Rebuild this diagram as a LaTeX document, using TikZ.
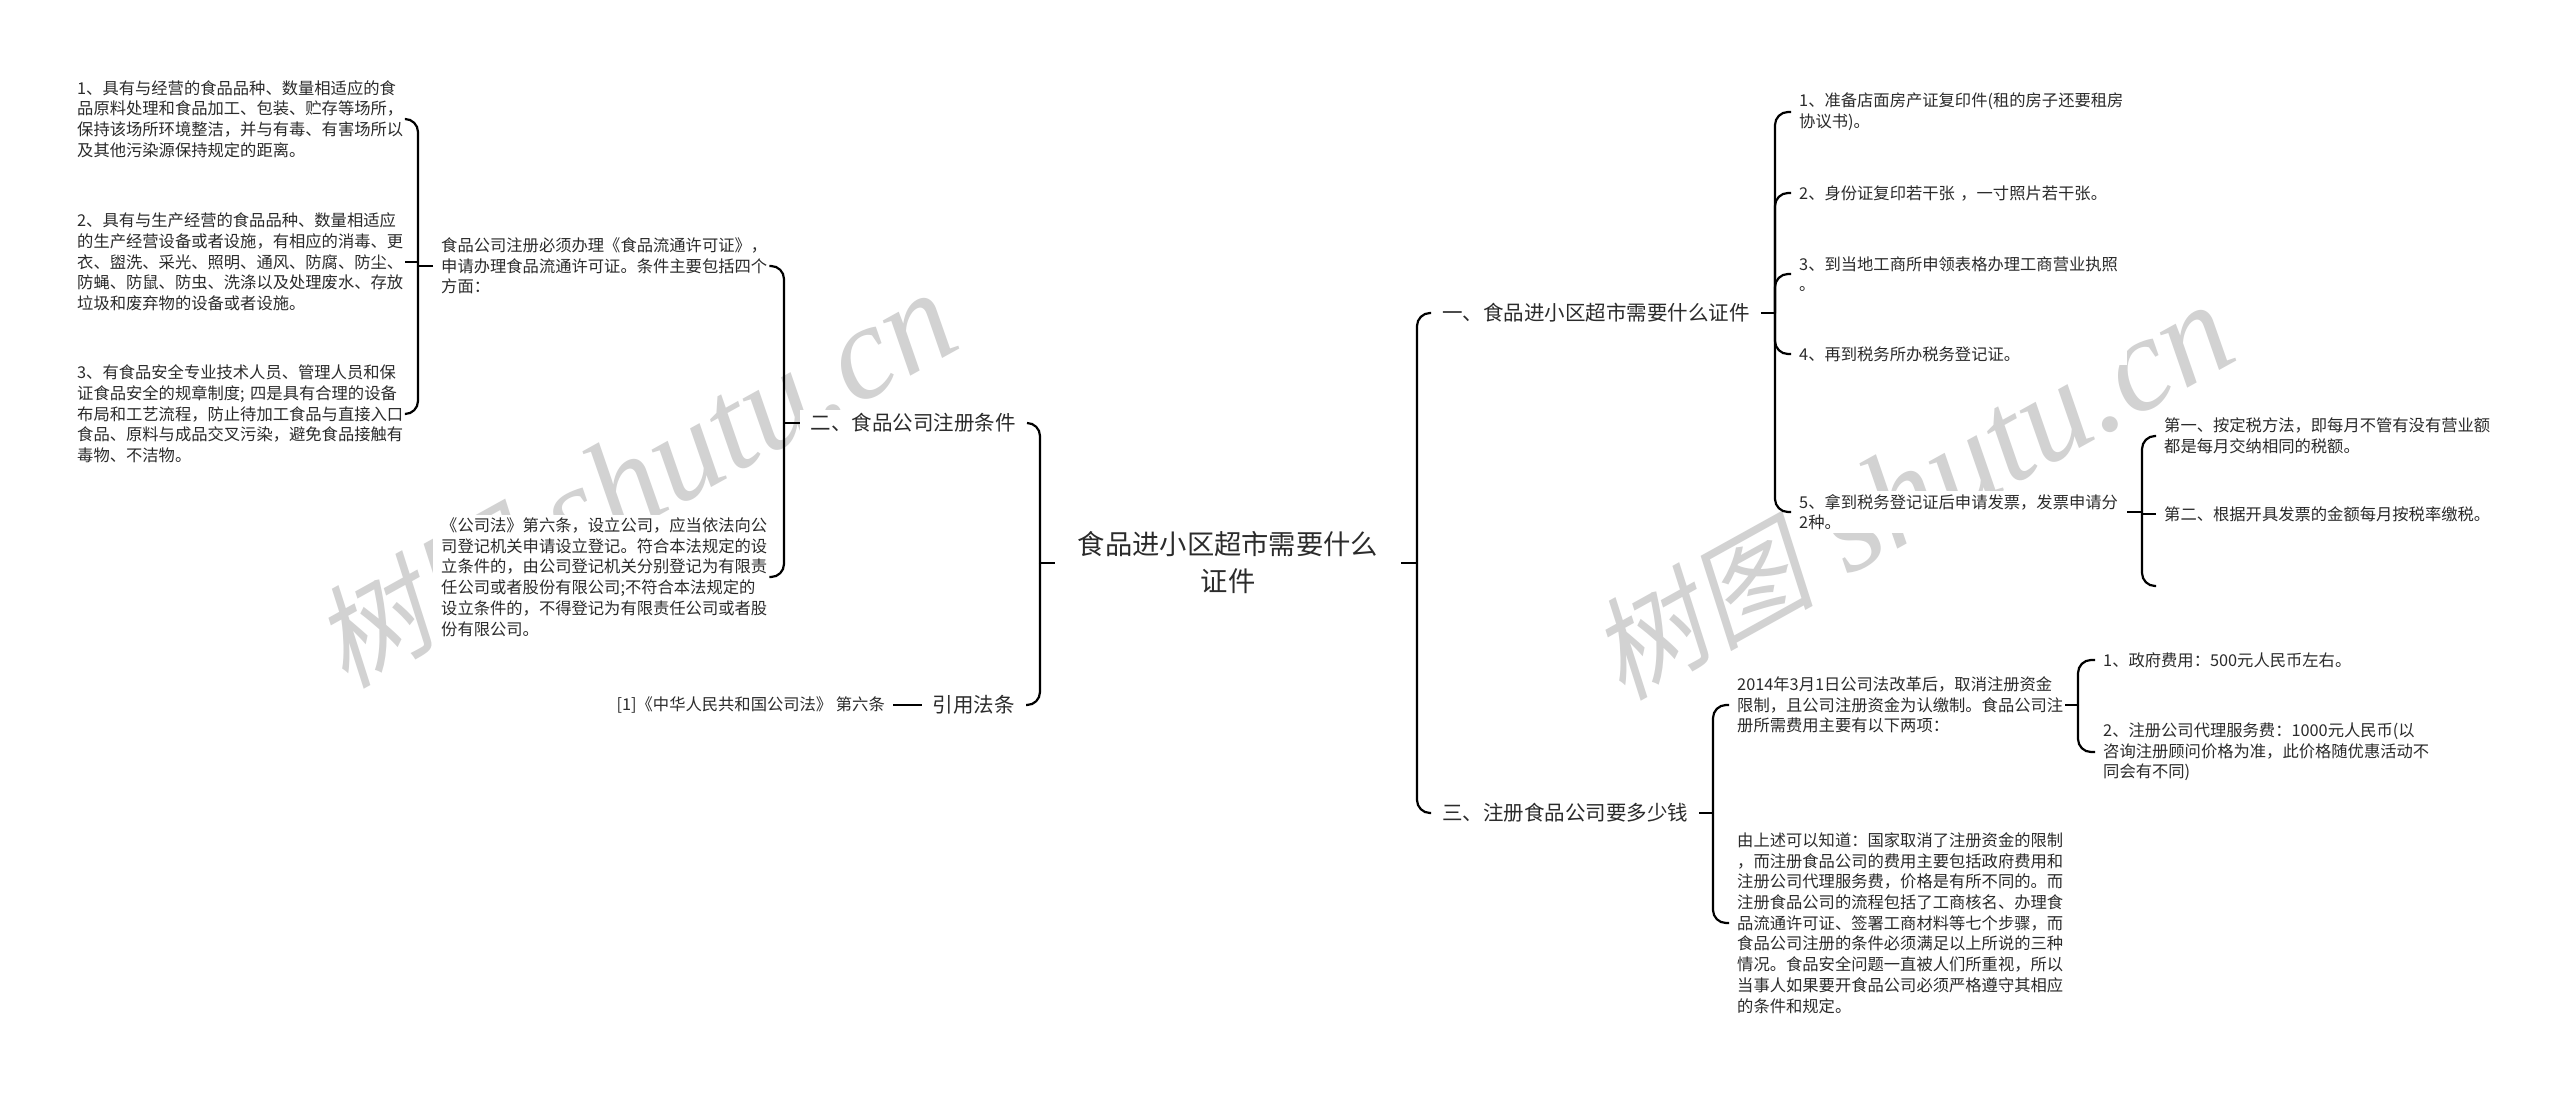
\documentclass[tikz,border=0pt]{standalone}
\usepackage{fontspec}
\setmainfont{Noto Sans CJK SC}
\newfontfamily\wmcjk[FakeSlant=0.2]{Noto Sans CJK SC}
\newfontfamily\wmlat{Liberation Serif}
\definecolor{txt}{HTML}{2B2B2B}
\definecolor{wmc}{HTML}{D2D2D2}
\begin{document}
\begin{tikzpicture}[x=1pt,y=-1pt,
  conn/.style={draw=black, line width=2.2pt, rounded corners=13pt},
  straight/.style={draw=black, line width=2.2pt},
  small/.style={font=\fontsize{16.3}{20.7}\selectfont, text=txt, align=left, text width=320pt, inner xsep=8pt, inner ysep=3pt, fill=white},
  smallfree/.style={font=\fontsize{16.3}{20.7}\selectfont, text=txt, inner xsep=8pt, inner ysep=3pt, fill=white},
  lvl/.style={font=\fontsize{20.5}{26}\selectfont, text=txt, inner xsep=11pt, inner ysep=3pt, fill=white},
  root/.style={font=\fontsize{27.3}{37}\selectfont, text=txt, align=center, inner xsep=23pt, inner ysep=4pt, fill=white},
  wm/.style={text=wmc, inner sep=0pt, anchor=base west, rotate=29}
]
\fill[white] (0,0) rectangle (2560,1093);
\useasboundingbox (0,0) rectangle (2560,1093);

% watermarks
\node[wm] (wmL) at (345,690) {{\wmcjk\fontsize{112}{112}\selectfont 树图}{\wmlat\itshape\fontsize{134}{134}\selectfont\hspace{34pt}shutu.cn}};
\node[wm] (wmR) at (1622,702) {{\wmcjk\fontsize{112}{112}\selectfont 树图}{\wmlat\itshape\fontsize{134}{134}\selectfont\hspace{34pt}shutu.cn}};

% spine coordinates
\coordinate (sL0) at (1040,0);
\coordinate (sR0) at (1417,0);
\coordinate (s2) at (784,0);
\coordinate (s2a) at (418,0);
\coordinate (s1) at (1775,0);
\coordinate (s5) at (2142,0);
\coordinate (s3) at (1713,0);
\coordinate (s3a) at (2078,0);

% root
\node[root] (c) at (1228,563) {食品进小区超市需要什么\\证件};

% level 1
\node[lvl, anchor=east] (n2) at (1027,423) {二、食品公司注册条件};
\node[lvl, anchor=east] (nr) at (1026,705) {引用法条};
\node[lvl, anchor=west] (n1) at (1431,313) {一、食品进小区超市需要什么证件};
\node[lvl, anchor=west] (n3) at (1431,813) {三、注册食品公司要多少钱};

% left side
\node[small, anchor=west] (l1a) at (69,119) {1、具有与经营的食品品种、数量相适应的食\\品原料处理和食品加工、包装、贮存等场所，\\保持该场所环境整洁，并与有毒、有害场所以\\及其他污染源保持规定的距离。};
\node[small, anchor=west] (l1b) at (69,262) {2、具有与生产经营的食品品种、数量相适应\\的生产经营设备或者设施，有相应的消毒、更\\衣、盥洗、采光、照明、通风、防腐、防尘、\\防蝇、防鼠、防虫、洗涤以及处理废水、存放\\垃圾和废弃物的设备或者设施。};
\node[small, anchor=west] (l1c) at (69,414) {3、有食品安全专业技术人员、管理人员和保\\证食品安全的规章制度;~四是具有合理的设备\\布局和工艺流程，防止待加工食品与直接入口\\食品、原料与成品交叉污染，避免食品接触有\\毒物、不洁物。};
\node[small, anchor=west] (l2a) at (433,266) {食品公司注册必须办理《食品流通许可证》，\\申请办理食品流通许可证。条件主要包括四个\\方面：};
\node[small, anchor=west] (l2b) at (433,577) {《公司法》第六条，设立公司，应当依法向公\\司登记机关申请设立登记。符合本法规定的设\\立条件的，由公司登记机关分别登记为有限责\\任公司或者股份有限公司;不符合本法规定的\\设立条件的，不得登记为有限责任公司或者股\\份有限公司。};
\node[smallfree, anchor=east] (ref) at (893,705) {[1]《中华人民共和国公司法》 第六条};

% right side
\node[small, anchor=west] (r1) at (1791,112) {1、准备店面房产证复印件(租的房子还要租房\\协议书)。};
\node[small, anchor=west] (r2) at (1791,193) {2、身份证复印若干张~，一寸照片若干张。};
\node[small, anchor=west] (r3) at (1791,274) {3、到当地工商所申领表格办理工商营业执照\\。};
\node[small, anchor=west] (r4) at (1791,354) {4、再到税务所办税务登记证。};
\node[small, anchor=west] (r5) at (1791,512) {5、拿到税务登记证后申请发票，发票申请分\\2种。};
\node[small, anchor=west] (r5a) at (2156,436) {第一、按定税方法，即每月不管有没有营业额\\都是每月交纳相同的税额。};
\node[small, anchor=west] (r5b) at (2156,514) {第二、根据开具发票的金额每月按税率缴税。};
\coordinate (r5c) at (2156,586);
\node[small, anchor=west] (r3a) at (1729,705) {2014年3月1日公司法改革后，取消注册资金\\限制，且公司注册资金为认缴制。食品公司注\\册所需费用主要有以下两项：};
\node[small, anchor=west] (r3b) at (1729,923) {由上述可以知道：国家取消了注册资金的限制\\，而注册食品公司的费用主要包括政府费用和\\注册公司代理服务费，价格是有所不同的。而\\注册食品公司的流程包括了工商核名、办理食\\品流通许可证、签署工商材料等七个步骤，而\\食品公司注册的条件必须满足以上所说的三种\\情况。食品安全问题一直被人们所重视，所以\\当事人如果要开食品公司必须严格遵守其相应\\的条件和规定。};
\node[small, anchor=west] (r3a1) at (2095,660) {1、政府费用：500元人民币左右。};
\node[small, anchor=west] (r3a2) at (2095,752) {2、注册公司代理服务费：1000元人民币(以\\咨询注册顾问价格为准，此价格随优惠活动不\\同会有不同)};

% connectors: root
\draw[straight] (c.west) -- (c.west -| sL0);
\draw[conn] (c.west -| sL0) |- (n2.east);
\draw[conn] (c.west -| sL0) |- (nr.east);
\draw[straight] (c.east) -- (c.east -| sR0);
\draw[conn] (c.east -| sR0) |- (n1.west);
\draw[conn] (c.east -| sR0) |- (n3.west);

% 二
\draw[straight] (n2.west) -- (n2.west -| s2);
\draw[conn] (n2.west -| s2) |- (l2a.east);
\draw[conn] (n2.west -| s2) |- (l2b.east);
% l2a
\draw[straight] (l2a.west) -- (l2a.west -| s2a);
\draw[conn] (l2a.west -| s2a) |- (l1a.east);
\draw[conn] (l2a.west -| s2a) |- (l1c.east);
\draw[straight] (l2a.west -| s2a) -- (l1b.east -| s2a) -- (l1b.east);
% 引用法条
\draw[straight] (nr.west) -- (ref.east);

% 一
\draw[straight] (n1.east) -- (n1.east -| s1);
\draw[conn] (n1.east -| s1) |- (r1.west);
\draw[conn] (n1.east -| s1) |- (r2.west);
\draw[conn] (n1.east -| s1) |- (r3.west);
\draw[conn] (n1.east -| s1) |- (r4.west);
\draw[conn] (n1.east -| s1) |- (r5.west);
% r5
\draw[straight] (r5.east) -- (r5.east -| s5);
\draw[conn] (r5.east -| s5) |- (r5a.west);
\draw[straight] (r5.east -| s5) -- (r5b.west -| s5) -- (r5b.west);
\draw[conn] (r5.east -| s5) |- (r5c);

% 三
\draw[straight] (n3.east) -- (n3.east -| s3);
\draw[conn] (n3.east -| s3) |- (r3a.west);
\draw[conn] (n3.east -| s3) |- (r3b.west);
% r3a
\draw[straight] (r3a.east) -- (r3a.east -| s3a);
\draw[conn] (r3a.east -| s3a) |- (r3a1.west);
\draw[conn] (r3a.east -| s3a) |- (r3a2.west);
\end{tikzpicture}
\end{document}
